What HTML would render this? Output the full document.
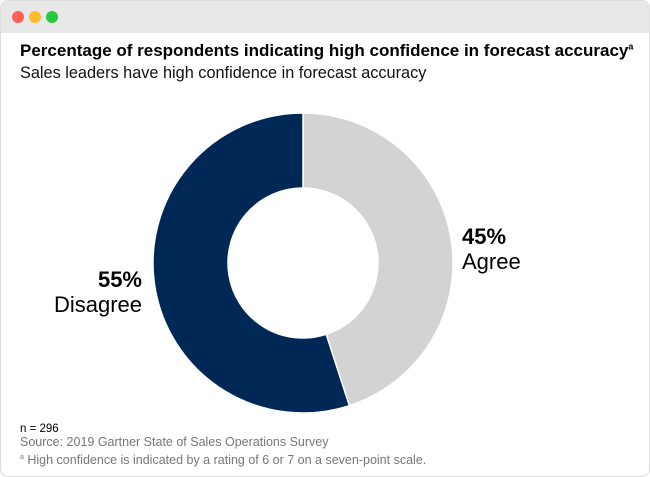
<!DOCTYPE html>
<html><head><meta charset="utf-8"><style>
body{margin:0;width:650px;height:477px;background:#fff;font-family:"Liberation Sans",sans-serif;overflow:hidden}
.card{position:absolute;left:0;top:0;width:648px;height:475px;border:1px solid #ddd;border-radius:8px;overflow:hidden;background:#fff}
.bar{position:absolute;left:0;top:0;width:100%;height:32px;background:#e8e8e8}
.dot{position:absolute;top:10px;width:12px;height:12px;border-radius:50%}
.t{position:absolute;white-space:nowrap}
</style></head><body>
<div class="card">
<div class="bar">
<div class="dot" style="left:11px;background:#fe5f57"></div>
<div class="dot" style="left:28px;background:#febc2e"></div>
<div class="dot" style="left:45px;background:#28c840"></div>
</div>
<div class="t" style="left:19px;top:40px;font-size:17px;font-weight:bold;color:#000">Percentage of respondents indicating high confidence in forecast accuracy<sup style="font-size:9px">a</sup></div>
<div class="t" style="left:19px;top:63px;font-size:16.3px;color:#111">Sales leaders have high confidence in forecast accuracy</div>
<svg id="chart" width="650" height="477" style="position:absolute;left:-1px;top:-1px"></svg>
<div class="t" style="left:461px;top:223px;font-size:22px;font-weight:bold">45%</div>
<div class="t" style="left:461px;top:248px;font-size:22px">Agree</div>
<div class="t" style="right:507px;top:266px;font-size:22px;font-weight:bold">55%</div>
<div class="t" style="right:507px;top:291px;font-size:22px">Disagree</div>
<div class="t" style="left:19px;top:422px;font-size:11.5px;color:#000">n = 296</div>
<div class="t" style="left:19px;top:434px;font-size:12.5px;color:#777">Source: 2019 Gartner State of Sales Operations Survey</div>
<div class="t" style="left:19px;top:452px;font-size:12.5px;color:#777"><sup style="font-size:7px">a</sup> High confidence is indicated by a rating of 6 or 7 on a seven-point scale.</div>
</div>
<script>
const categories=["Agree","Disagree"];
const values=[45,55];
const colors=["#d3d3d3","#002856"];
const svg=document.getElementById('chart');
const cx=303,cy=263,R=150,r=75;
const total=values.reduce((a,b)=>a+b,0);
let start=0;
function pt(a,rad){return [cx+rad*Math.sin(a),cy-rad*Math.cos(a)];}
values.forEach((v,i)=>{
 const a0=start/total*2*Math.PI,a1=(start+v)/total*2*Math.PI;start+=v;
 const large=(a1-a0)>Math.PI?1:0;
 const [x0,y0]=pt(a0,R),[x1,y1]=pt(a1,R),[x2,y2]=pt(a1,r),[x3,y3]=pt(a0,r);
 const p=document.createElementNS('http://www.w3.org/2000/svg','path');
 p.setAttribute('d',`M${x0},${y0}A${R},${R} 0 ${large} 1 ${x1},${y1}L${x2},${y2}A${r},${r} 0 ${large} 0 ${x3},${y3}Z`);
 p.setAttribute('fill',colors[i]);p.setAttribute('stroke','#fff');p.setAttribute('stroke-width','1.5');
 
 
 svg.appendChild(p);
});
</script>
</body></html>
